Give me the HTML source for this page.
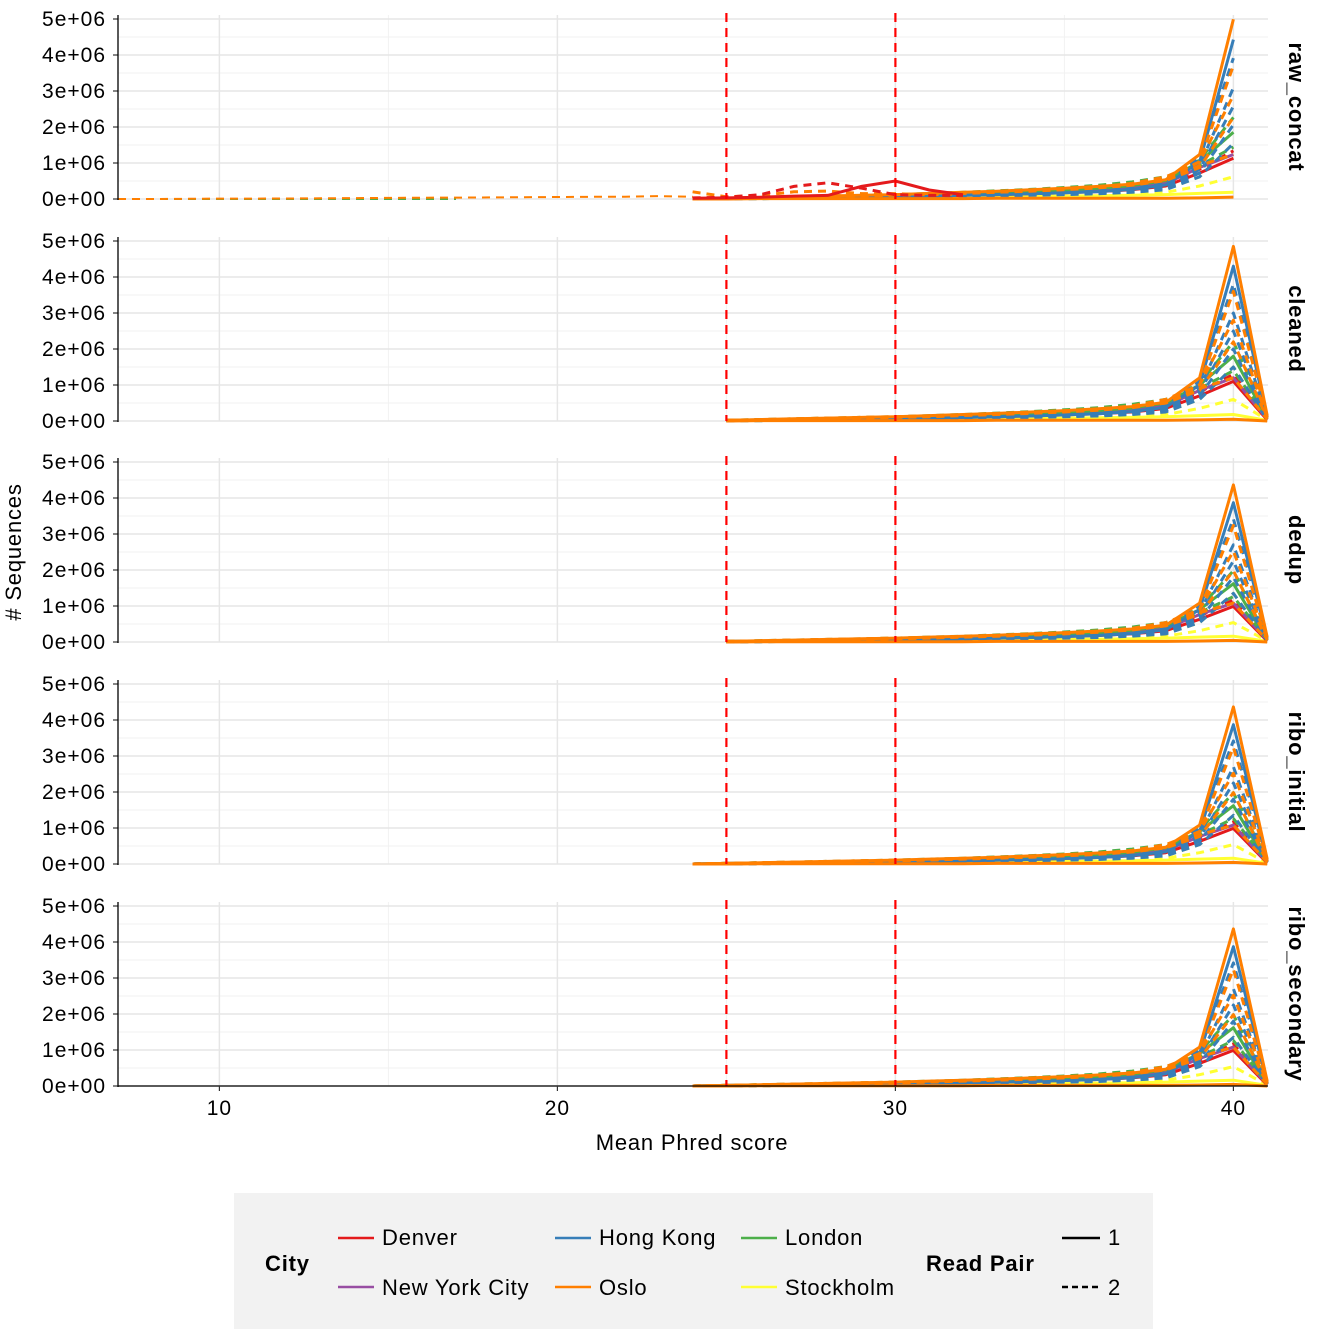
<!DOCTYPE html>
<html><head><meta charset="utf-8">
<style>
html,body{margin:0;padding:0;background:#fff;}
svg{display:block;font-family:"Liberation Sans",Arial,sans-serif;}
</style></head>
<body>
<svg id="chart" width="1344" height="1344" viewBox="0 0 1344 1344" xmlns="http://www.w3.org/2000/svg">
<g id="grid"></g><g id="series"></g><g id="axes"></g>
<text x="692" y="1150" font-size="22" letter-spacing="0.8" text-anchor="middle">Mean Phred score</text>
<text transform="translate(21,552) rotate(-90)" font-size="22" letter-spacing="0.8" text-anchor="middle"># Sequences</text>
<g font-size="22" letter-spacing="0.8">
<rect x="234" y="1193" width="919" height="136" fill="#f2f2f2"/>
<text x="265" y="1271" font-weight="bold">City</text>
<g><line x1="338" y1="1238" x2="374" y2="1238" stroke="#e41a1c" stroke-width="2.5"/><text x="382" y="1245">Denver</text></g>
<g><line x1="338" y1="1287" x2="374" y2="1287" stroke="#984ea3" stroke-width="2.5"/><text x="382" y="1295">New York City</text></g>
<g><line x1="555" y1="1238" x2="591" y2="1238" stroke="#377eb8" stroke-width="2.5"/><text x="599" y="1245">Hong Kong</text></g>
<g><line x1="555" y1="1287" x2="591" y2="1287" stroke="#ff7f00" stroke-width="2.5"/><text x="599" y="1295">Oslo</text></g>
<g><line x1="741" y1="1238" x2="777" y2="1238" stroke="#4daf4a" stroke-width="2.5"/><text x="785" y="1245">London</text></g>
<g><line x1="741" y1="1287" x2="777" y2="1287" stroke="#ffff33" stroke-width="2.5"/><text x="785" y="1295">Stockholm</text></g>
<text x="926" y="1271" font-weight="bold">Read Pair</text>
<g><line x1="1062" y1="1238" x2="1100" y2="1238" stroke="#000" stroke-width="2.5"/><text x="1108" y="1245">1</text></g>
<g><line x1="1062" y1="1287" x2="1100" y2="1287" stroke="#000" stroke-width="2.5" stroke-dasharray="6 4"/><text x="1108" y="1295">2</text></g>
</g>
</svg>
<script>
const panels=["raw_concat","cleaned","dedup","ribo_initial","ribo_secondary"];
const panelFactor=[1.03,1,0.9,0.9,0.9];
const panelStart=[24,25,25,24,24];
const yTicks=[0,1,2,3,4,5];
const yTickLabels=["0e+00","1e+06","2e+06","3e+06","4e+06","5e+06"];
const xTicks=[10,20,30,40];
const cutoffs=[25,30];
const scores=[24,25,26,27,28,29,30,31,32,33,34,35,36,37,38,39,40,41];
const cityColor={Denver:"#e41a1c","New York City":"#984ea3","Hong Kong":"#377eb8",London:"#4daf4a",Oslo:"#ff7f00",Stockholm:"#ffff33"};
// values in millions, scores 24..41
const stk1=[0,0.01,0.02,0.02,0.03,0.03,0.04,0.05,0.05,0.06,0.07,0.08,0.09,0.10,0.12,0.15,0.18,0.02];
const stk2=[0,0.01,0.02,0.03,0.04,0.05,0.06,0.07,0.08,0.09,0.10,0.12,0.14,0.18,0.25,0.6,1.5,0.05];
const stk3=[0,0.01,0.01,0.02,0.03,0.03,0.04,0.05,0.06,0.07,0.08,0.09,0.11,0.13,0.18,0.35,0.6,0.03];
const den1=[0,0.01,0.02,0.03,0.04,0.05,0.06,0.08,0.1,0.12,0.14,0.17,0.2,0.25,0.35,0.7,1.1,0.03];
const den2=[0,0.01,0.02,0.03,0.05,0.06,0.07,0.09,0.11,0.13,0.16,0.19,0.23,0.3,0.42,0.8,1.3,0.05];
const nyc1=[0,0.02,0.03,0.04,0.06,0.07,0.09,0.11,0.13,0.15,0.18,0.21,0.25,0.31,0.42,0.85,1.2,0.05];
const lon1=[0,0.02,0.03,0.05,0.06,0.08,0.1,0.12,0.14,0.17,0.2,0.24,0.29,0.36,0.5,1.0,1.8,0.05];
const lon2=[0,0.02,0.04,0.05,0.07,0.09,0.11,0.13,0.16,0.19,0.23,0.27,0.33,0.41,0.55,1.05,2.2,0.1];
const lon3=[0,0.02,0.04,0.06,0.08,0.1,0.12,0.15,0.18,0.22,0.26,0.31,0.37,0.46,0.6,0.9,1.4,0.08];
const hk1=[0,0.01,0.02,0.03,0.04,0.05,0.07,0.08,0.1,0.12,0.14,0.17,0.2,0.26,0.38,1.0,4.3,0.1];
const hk2=[0,0.01,0.02,0.03,0.04,0.06,0.07,0.09,0.11,0.13,0.16,0.19,0.23,0.3,0.45,1.1,3.8,0.1];
const hk3=[0,0.01,0.02,0.03,0.04,0.05,0.06,0.08,0.1,0.12,0.14,0.16,0.19,0.24,0.35,0.9,3.0,0.08];
const hk4=[0,0.01,0.02,0.02,0.03,0.04,0.05,0.06,0.08,0.1,0.12,0.14,0.17,0.22,0.3,0.8,2.5,0.06];
const hk5=[0,0.01,0.01,0.02,0.03,0.04,0.05,0.06,0.07,0.09,0.11,0.13,0.15,0.2,0.28,0.7,2.0,0.05];
const hk6=[0,0.01,0.01,0.02,0.02,0.03,0.04,0.05,0.06,0.08,0.1,0.12,0.14,0.18,0.25,0.6,1.5,0.04];
const osl1=[0,0.02,0.04,0.06,0.08,0.1,0.12,0.15,0.18,0.21,0.25,0.29,0.34,0.4,0.52,1.2,4.85,0.15];
const osl2=[0,0.02,0.04,0.06,0.08,0.1,0.12,0.14,0.17,0.2,0.24,0.28,0.33,0.42,0.6,1.0,3.6,0.1];
const osl3=[0,0.01,0.03,0.05,0.07,0.09,0.11,0.13,0.16,0.19,0.22,0.26,0.31,0.38,0.5,0.9,1.2,0.05];
const osl4=[0,0,0.01,0.01,0.01,0.01,0.01,0.01,0.01,0.02,0.02,0.02,0.02,0.02,0.02,0.03,0.05,0];
const osl5=[0,0.02,0.03,0.05,0.07,0.09,0.11,0.13,0.16,0.19,0.23,0.27,0.32,0.4,0.55,1.0,2.8,0.08];
const osl6=[0,0.01,0.03,0.04,0.06,0.08,0.1,0.12,0.15,0.18,0.21,0.25,0.3,0.37,0.5,0.85,2.2,0.06];
const seriesList=[
 ["Stockholm",1,stk1],["Stockholm",2,stk3],["Stockholm",2,stk2],["Denver",1,den1],["Denver",2,den2],["New York City",1,nyc1],
 ["London",1,lon1],["London",2,lon3],["London",2,lon2],["Hong Kong",2,hk6],["Hong Kong",2,hk5],["Hong Kong",2,hk4],["Hong Kong",2,hk3],["Hong Kong",2,hk2],["Hong Kong",1,hk1],
 ["Oslo",2,osl3],["Oslo",2,osl6],["Oslo",2,osl5],["Oslo",2,osl2],["Oslo",1,osl4],["Oslo",1,osl1]];
const rawScores=[24,25,26,27,28,29,30,31,32];
const rawDen2=[0.03,0.05,0.12,0.35,0.45,0.3,0.12,0.1,0.1];
const rawDen1=[0.02,0.03,0.05,0.08,0.1,0.35,0.5,0.25,0.12];
const rawOslBump=[0.2,0.06,0.1,0.2,0.22,0.15,0.15,0.12,0.14];
const tailScores=[7,8,9,10,11,12,13,14,15,16,17,18,19,20,21,22,23,24];
const tailOslo=[0,0,0.005,0.01,0.01,0.015,0.02,0.025,0.03,0.035,0.04,0.045,0.05,0.055,0.06,0.065,0.08,0.06];
const tailNyc=[0,0,0,0,0,0];
const tailLon=[0,0,0,0,0,0,0,0,0,0,0];

const NS="http://www.w3.org/2000/svg";
const zero=[199,421,642,864,1086];
function X(s){return 118+(s-7)*33.8;}
function Y(v,p){return zero[p]-v*36;}
const G=document.getElementById('grid'),S=document.getElementById('series'),A=document.getElementById('axes');
function mk(tag,attrs,parent){const e=document.createElementNS(NS,tag);for(const k in attrs)e.setAttribute(k,attrs[k]);parent.appendChild(e);return e;}
function pathD(xs,vs,p){return xs.map((s,i)=>(i?'L':'M')+X(s).toFixed(1)+','+Y(vs[i],p).toFixed(1)).join('');}
panels.forEach((name,p)=>{
 const top=zero[p]-184;
 for(let m=0.5;m<5;m+=1){mk('line',{x1:118,x2:1268,y1:Y(m,p),y2:Y(m,p),stroke:'#f2f2f2','stroke-width':1},G);}
 for(const s of [15,25,35]){mk('line',{x1:X(s),x2:X(s),y1:top,y2:zero[p],stroke:'#f2f2f2','stroke-width':1},G);}
 yTicks.forEach(t=>{const l=mk('line',{x1:118,x2:1268,y1:Y(t,p),y2:Y(t,p),stroke:'#e6e6e6','stroke-width':1.5},G);
   
   
   mk('line',{x1:113,x2:118,y1:Y(t,p),y2:Y(t,p),stroke:'#333','stroke-width':1.2},A);
   const tx=mk('text',{x:106,y:Y(t,p)+7,'font-size':21,'letter-spacing':1,'text-anchor':'end',fill:'#000'},A);tx.textContent=yTickLabels[t];
   
   });
 xTicks.forEach(s=>{mk('line',{x1:X(s),x2:X(s),y1:top,y2:zero[p],stroke:'#e6e6e6','stroke-width':1.5},G);});
 const ax=mk('line',{x1:118,x2:118,y1:top,y2:zero[p]+1,stroke:'#000','stroke-width':1.3},A);
 
 
 const st=mk('text',{transform:`translate(1289,${zero[p]-92}) rotate(90)`,'font-size':22,'letter-spacing':0.8,'font-weight':'bold','text-anchor':'middle'},A);
 st.textContent=name;
 
 
 const g=mk('g',{},S);
 
 
 const f=panelFactor[p];
 if(p===0){
  [[tailNyc,'New York City'],[tailLon,'London'],[tailOslo,'Oslo']].forEach(([arr,c])=>{
   const pa=mk('path',{d:pathD(tailScores.slice(0,arr.length),arr,p),fill:'none',stroke:cityColor[c],'stroke-width':2,'stroke-dasharray':'8 6'},g);
   
   });
 }
 seriesList.forEach(([c,pair,vals])=>{
  let xs=[],vs=[];
  scores.forEach((s,i)=>{if(s<panelStart[p])return;if(p===0&&s>40)return;xs.push(s);vs.push(vals[i]*f);});
  const pa=mk('path',{d:pathD(xs,vs,p),fill:'none',stroke:cityColor[c],'stroke-width':3,'stroke-linejoin':'round'},g);
  if(pair===2)pa.setAttribute('stroke-dasharray','8 6');
  
  
 });
 if(p===0){
  [[rawOslBump,'Oslo',2],[rawDen2,'Denver',2],[rawDen1,'Denver',1]].forEach(([arr,c,pair])=>{
   const pa=mk('path',{d:pathD(rawScores,arr,p),fill:'none',stroke:cityColor[c],'stroke-width':3},g);
   if(pair===2)pa.setAttribute('stroke-dasharray','8 6');
   
   });
 }
 cutoffs.forEach(s=>{const l=mk('line',{x1:X(s),x2:X(s),y1:top-2,y2:zero[p],stroke:'#ff0000','stroke-width':2.2,'stroke-dasharray':'9 6'},S);
  
  });
});
const xa=mk('line',{x1:118,x2:1268,y1:1086,y2:1086,stroke:'#000','stroke-width':1.3},A);


xTicks.forEach(s=>{mk('line',{x1:X(s),x2:X(s),y1:1086,y2:1091,stroke:'#333','stroke-width':1.2},A);
 const t=mk('text',{x:X(s),y:1115,'font-size':21,'letter-spacing':1,'text-anchor':'middle'},A);t.textContent=s;
 
 });
</script>
</body></html>
